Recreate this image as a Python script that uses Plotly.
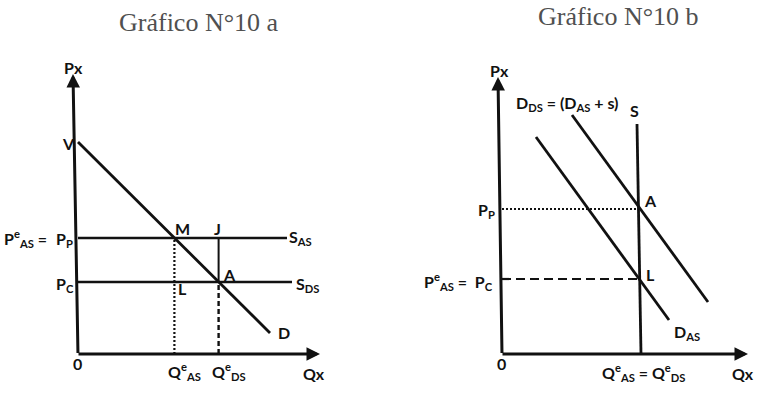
import plotly.graph_objects as go

# ---------------- data (conceptual units) ----------------
# Left chart (Gráfico N°10 a)
a_yaxis_q = [-0.25, 0.0]      # slightly tilted price axis (top, bottom)
a_yaxis_p = [14.0, 0.0]
a_xaxis_end = 12.1
a_V = 10.6
a_demand_q = [0.0, 9.6]
a_demand_p = [10.6, 1.05]
a_Pp = 5.8
a_Pc = 3.6
a_Qas = 4.82
a_Qds = 7.03
a_Sas_end = 10.45
a_Sds_end = 10.7

# Right chart (Gráfico N°10 b)
b_yaxis_q = [-0.2, 0.0]
b_yaxis_p = [13.85, 0.0]
b_xaxis_end = 12.3
b_S_q = [6.75, 6.95]
b_S_p = [11.5, 0.0]
b_Pp = 7.25
b_Pc = 3.75
b_Qa = 6.82
b_Ql = 6.885
b_Dds_q = [3.5, 10.3]
b_Dds_p = [11.95, 2.6]
b_Das_q = [1.7, 8.35]
b_Das_p = [10.85, 1.7]

titles = ["Gráfico N°10 a", "Gráfico N°10 b"]

FONT = "Lato"
BLACK = "#111111"
FS = 16

fig = go.Figure()

def line(xs, ys, ax="x", w=2.6, dash="solid"):
    fig.add_trace(go.Scatter(x=xs, y=ys, mode="lines", xaxis=ax, yaxis="y",
                             line=dict(color=BLACK, width=w, dash=dash),
                             hoverinfo="skip", showlegend=False))

# ---- left chart ----
line([0, a_Sas_end], [a_Pp, a_Pp], "x", 2.6)
line([0, a_Sds_end], [a_Pc, a_Pc], "x", 2.6)
line(a_demand_q, a_demand_p, "x", 2.8)
line([a_Qds, a_Qds], [a_Pc, a_Pp], "x", 2.0)
line([a_Qas, a_Qas], [0, a_Pp], "x", 2.2, "2px,2px")
line([a_Qds, a_Qds], [0, a_Pc], "x", 2.4, "5px,3px")

# ---- right chart ----
line(b_S_q, b_S_p, "x2", 2.8)
line(b_Dds_q, b_Dds_p, "x2", 2.8)
line(b_Das_q, b_Das_p, "x2", 2.8)
line([0, b_Qa], [b_Pp, b_Pp], "x2", 2.0, "2px,2px")
line([0, b_Ql], [b_Pc, b_Pc], "x2", 2.2, "9px,5px")

ann = []
# axes with arrowheads
def arrow(xr, x0, y0, x1, y1):
    ann.append(dict(xref=xr, yref="y", axref=xr, ayref="y", x=x1, y=y1, ax=x0, ay=y0,
                    showarrow=True, arrowhead=2, arrowsize=0.9, arrowwidth=3,
                    arrowcolor=BLACK, standoff=0, startstandoff=0, text=" ",
                    font=dict(size=1)))

arrow("x", a_yaxis_q[1], a_yaxis_p[1] - 0.05, a_yaxis_q[0], a_yaxis_p[0])
arrow("x", a_yaxis_q[1] - 0.05, 0, a_xaxis_end, 0)
arrow("x2", b_yaxis_q[1], b_yaxis_p[1] - 0.05, b_yaxis_q[0], b_yaxis_p[0])
arrow("x2", b_yaxis_q[1] - 0.05, 0, b_xaxis_end, 0)

def label(xr, x, y, text, xanchor="center", size=FS):
    ann.append(dict(xref=xr, yref="y", x=x, y=y, text=text, showarrow=False,
                    xanchor=xanchor, yanchor="middle",
                    font=dict(family=FONT, size=size, color=BLACK, weight="bold")))

# left labels
label("x", -0.25, 14.35, "Px")
label("x", -0.5, 10.55, "V")
label("x", 5.2, 6.3, "M")
label("x", 6.95, 6.3, "J")
label("x", 7.15, 4.0, "A", "left")
label("x", 5.2, 3.3, "L")
label("x", 10.45, 5.85, "S<sub>AS</sub>", "left")
label("x", 10.8, 3.5, "S<sub>DS</sub>", "left")
label("x", 9.9, 1.1, "D", "left")
label("x", -0.05, -0.45, "0")
label("x", 5.3, -0.85, "Q<sup>e</sup><sub>AS</sub>")
label("x", 7.55, -0.85, "Q<sup>e</sup><sub>DS</sub>")
label("x", 11.8, -0.95, "Qx")
label("x", -3.8, 5.8, "P<sup>e</sup><sub>AS</sub> =", "left")
label("x", -1.2, 5.75, "P<sub>P</sub>", "left")
label("x", -1.2, 3.5, "P<sub>C</sub>", "left")

# right labels
label("x2", -0.15, 14.2, "Px")
label("x2", 0.6, 12.55, "D<sub>DS</sub> = (D<sub>AS</sub> + s)", "left")
label("x2", 6.6, 12.2, "S")
label("x2", 7.0, 7.7, "A", "left")
label("x2", 7.1, 4.0, "L", "left")
label("x2", 8.5, 1.1, "D<sub>AS</sub>", "left")
label("x2", -0.25, 7.2, "P<sub>P</sub>", "right")
label("x2", -0.35, 3.65, "P<sup>e</sup><sub>AS</sub> =  P<sub>C</sub>", "right")
label("x2", -0.05, -0.45, "0")
label("x2", 7.05, -0.9, "Q<sup>e</sup><sub>AS</sub> = Q<sup>e</sup><sub>DS</sub>")
label("x2", 12.05, -0.95, "Qx")

# titles
for tx, ty, t in [(0.2605, 0.943, titles[0]), (0.809, 0.958, titles[1])]:
    ann.append(dict(xref="paper", yref="paper", x=tx, y=ty, text=t, showarrow=False,
                    xanchor="center", yanchor="middle",
                    font=dict(family="Liberation Serif", size=26, color="#505050")))

ax_common = dict(visible=False, showgrid=False, zeroline=False, fixedrange=True)
fig.update_layout(
    width=764, height=403,
    margin=dict(l=0, r=0, t=0, b=0),
    paper_bgcolor="white", plot_bgcolor="white",
    xaxis=dict(domain=[0, 0.5], range=[-3.9, 15.2], **ax_common),
    xaxis2=dict(domain=[0.5, 1.0], range=[-6.0, 13.1], **ax_common),
    yaxis=dict(domain=[0, 1], range=[-2.45, 17.7], **ax_common),
    annotations=ann,
    showlegend=False,
)

fig.write_html("out.html")
